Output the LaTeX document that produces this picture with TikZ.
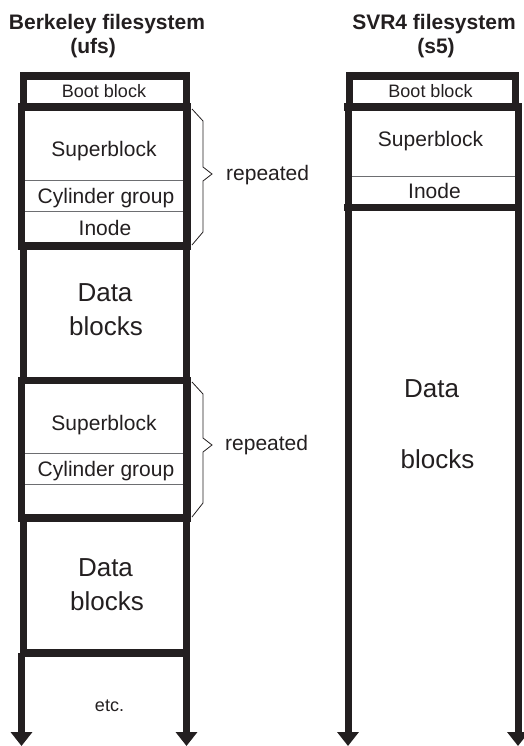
\documentclass[tikz,border=0pt]{standalone}
\usepackage{fontspec}
\setmainfont{Liberation Sans}
\usetikzlibrary{arrows.meta}
\definecolor{ink}{HTML}{231F20}
\definecolor{sep}{HTML}{6D6E71}
\tikzset{
  x=1pt, y=-1pt,
  thickbox/.style={draw=ink, line width=7.5pt},
  sepline/.style={draw=sep, line width=1pt},
  downarrow/.style={draw=ink, line width=7pt, -{Triangle[width=21pt,length=14pt]}},
  bracestyle/.style={draw=ink, line width=0.8pt, line join=miter},
  title/.style={font=\fontsize{21}{25}\selectfont\bfseries, text=ink, anchor=base, inner sep=0pt},
  small/.style={font=\fontsize{18}{21}\selectfont, text=ink, anchor=base, inner sep=0pt},
  mid/.style={font=\fontsize{21}{25}\selectfont, text=ink, anchor=base, inner sep=0pt},
  big/.style={font=\fontsize{26}{30}\selectfont, text=ink, anchor=base, inner sep=0pt},
  repl/.style={font=\fontsize{21}{25}\selectfont, text=ink, anchor=base west, inner sep=0pt},
}
\begin{document}
\begin{tikzpicture}
\useasboundingbox (0,0) rectangle (524,746);

% ---------- titles ----------
\node[title] (t1) at (107,29.5) {Berkeley filesystem};
\node[title] (t1b) at (93,53.5) {(ufs)};
\node[title] (t2) at (434,29.5) {SVR4 filesystem};
\node[title] (t2b) at (436,53.5) {(s5)};

% ---------- Berkeley column ----------
% separators first
\draw[sepline] (21,180) -- (187,180);
\draw[sepline] (21,211) -- (187,211);
\draw[sepline] (21,453) -- (187,453);
\draw[sepline] (21,484) -- (187,484);

% arrows going down
\coordinate (la0) at (21.5,653);
\coordinate (la1) at (21.5,746);
\coordinate (lb0) at (186.5,653);
\coordinate (lb1) at (186.5,746);
\draw[downarrow] (la0) -- (la1);
\draw[downarrow] (lb0) -- (lb1);

% boxes
\draw[thickbox] (23.5,76) rectangle (186.5,107);
\draw[thickbox] (21.5,107) rectangle (187,246);
\draw[thickbox] (23.5,246) rectangle (186.5,380.5);
\draw[thickbox] (21.5,380.5) rectangle (187,518);
\draw[thickbox] (23.5,518) rectangle (186.5,653);

% texts
\node[small] (bb1) at (104,98) {Boot block};
\node[mid] (sb1) at (104,157) {Superblock};
\node[mid] (cg1) at (106,204) {Cylinder group};
\node[mid] (in1) at (105,235) {Inode};
\node[big] (d1a) at (105,301.5) {Data};
\node[big] (d1b) at (106,335) {blocks};
\node[mid] (sb2) at (104,430.5) {Superblock};
\node[mid] (cg2) at (106,476.5) {Cylinder group};
\node[big] (d2a) at (105.5,576) {Data};
\node[big] (d2b) at (107,610) {blocks};
\node[small] (etc) at (109.5,711.5) {etc.};

% braces
\coordinate (br1a) at (192,109);
\coordinate (br1b) at (192,245);
\draw[bracestyle] (br1a) -- (203,121) -- (203,167) -- (212,174) -- (203,181) -- (203,232) -- (br1b);
\node[repl] (rep1) at (226,180) {repeated};

\coordinate (br2a) at (192,382);
\coordinate (br2b) at (192,517);
\draw[bracestyle] (br2a) -- (203,394) -- (203,438) -- (212,445) -- (203,452) -- (203,503) -- (br2b);
\node[repl] (rep2) at (225,450) {repeated};

% ---------- SVR4 column ----------
\draw[sepline] (348,177) -- (518,177);

\coordinate (ra0) at (348,107);
\coordinate (ra1) at (348,746);
\coordinate (rb0) at (518,107);
\coordinate (rb1) at (518,746);
\draw[downarrow] (ra0) -- (ra1);
\draw[downarrow] (rb0) -- (rb1);
\draw[thickbox, line cap=rect] (348,207.5) -- (518,207.5);
\draw[thickbox, line cap=rect] (348,107) -- (518,107);
\draw[thickbox] (349.5,76) rectangle (515.5,107);

\node[small] (bb2) at (430.5,98) {Boot block};
\node[mid] (sb3) at (430.5,147) {Superblock};
\node[mid] (in3) at (434.5,198) {Inode};
\node[big] (d3a) at (431.5,397) {Data};
\node[big] (d3b) at (437.5,468) {blocks};
\end{tikzpicture}
\end{document}
